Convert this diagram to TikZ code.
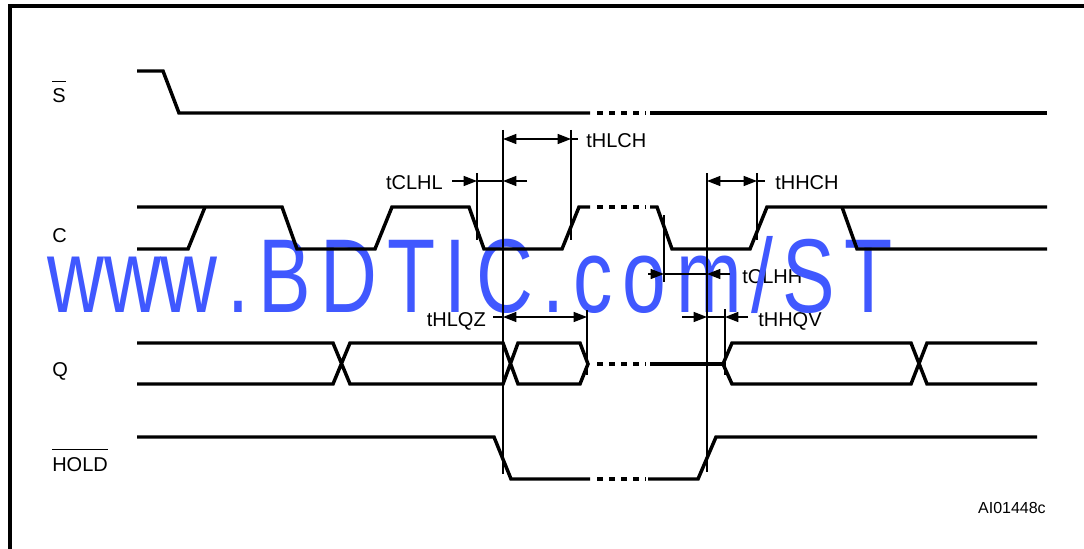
\documentclass[tikz,border=0pt]{standalone}
\usepackage{fontspec}
\setmainfont{Liberation Sans}
\usepackage{graphicx}
\usetikzlibrary{arrows.meta}
\definecolor{wmblue}{RGB}{64,88,255}
\newcommand\barred[1]{\vbox{\hrule height 0.9pt\kern 5pt\hbox{#1}}}
\newcommand\wmk{\kern 9.5pt}
\begin{document}
\begin{tikzpicture}[x=0.75pt,y=-0.75pt,
  >={Triangle[length=10pt,width=7.5pt]},
  sig/.style={line width=2.6pt, line join=miter},
  dsh/.style={line width=2.6pt, dash pattern=on 4.5pt off 4.5pt},
  thinl/.style={line width=1pt},
  lbl/.style={inner sep=0pt, font=\fontsize{15}{18}\selectfont},
  small/.style={inner sep=0pt, font=\fontsize{12}{14}\selectfont}]
\useasboundingbox (0,0) rectangle (1084,549);
% frame
\draw[line width=2.4pt] (10,549) -- (10,6) -- (1084,6);
% signal labels
\node[lbl, anchor=base west] (lS) at (52,103) {\barred{S}};
\node[lbl, anchor=base west] (lC) at (52,242) {C};
\node[lbl, anchor=base west] (lQ) at (52,376) {Q};
\node[lbl, anchor=base west] (lH) at (52,471) {\barred{HOLD}};
% timing labels
\node[lbl, anchor=base west] (tHLCH) at (586,147) {tHLCH};
\node[lbl, anchor=base east] (tCLHL) at (443,190) {tCLHL};
\node[lbl, anchor=base west] (tHHCH) at (775,190) {tHHCH};
\node[lbl, anchor=base west] (tCLHH) at (742,283) {tCLHH};
\node[lbl, anchor=base east] (tHLQZ) at (486,326) {tHLQZ};
\node[lbl, anchor=base west] (tHHQV) at (758,326) {tHHQV};
\node[small, anchor=base east] (ref) at (1046,513) {AI01448c};
% watermark
\node[anchor=base west, inner sep=0pt, text=wmblue, font=\fontsize{78.75}{80}\selectfont] (wm) at (47,312)
  {\scalebox{0.75}[1]{www\wmk .\wmk B\wmk D\wmk T\wmk I\wmk C\wmk .\wmk c\wmk o\wmk m\wmk /\wmk S\wmk T}};
% S
\draw[sig] (137,71) -- (163,71) -- (179,113) -- (590,113);
\draw[dsh] (597,113) -- (646,113);
\draw[sig] (650,113) -- (1047,113);
% C
\draw[sig] (137,207) -- (282,207) -- (297,249) -- (375,249) -- (392,207) -- (469,207) -- (484,249) -- (562,249) -- (579,207) -- (590,207);
\draw[dsh] (597,207) -- (646,207);
\draw[sig] (650,207) -- (657,207) -- (672,249) -- (750,249) -- (767,207) -- (1047,207);
\draw[sig] (137,249) -- (188,249) -- (205,207);
\draw[sig] (842,207) -- (857,249) -- (1047,249);
% Q
\draw[sig] (137,343) -- (333,343) -- (350,384) -- (503,384) -- (518,343) -- (580,343) -- (588,364) -- (580,384) -- (518,384) -- (503,343) -- (350,343) -- (333,384) -- (137,384);
\draw[dsh] (597,364) -- (646,364);
\draw[sig] (650,364) -- (723,364);
\draw[sig] (1037,343) -- (927,343) -- (911,384) -- (732,384) -- (723,364) -- (732,343) -- (911,343) -- (927,384) -- (1037,384);
% HOLD
\draw[sig] (137,437) -- (494,437) -- (511,479) -- (590,479);
\draw[dsh] (597,479) -- (646,479);
\draw[sig] (648,479) -- (698,479) -- (716,437) -- (1037,437);
% vertical reference lines
\draw[thinl] (503,130) -- (503,474);
\draw[thinl] (707,173) -- (707,472);
\draw[thinl] (477,173) -- (477,240);
\draw[thinl] (571,130) -- (571,240);
\draw[thinl] (757,173) -- (757,240);
\draw[thinl] (664,215) -- (664,282);
\draw[thinl] (587,310) -- (587,375);
\draw[thinl] (725,309) -- (725,375);
% dimension arrows
\draw[thinl,<->] (503,139) -- (571,139);
\draw[thinl] (571,139) -- (578,139);
\draw[thinl,->] (452,181) -- (477,181);
\draw[thinl] (477,181) -- (503,181);
\draw[thinl,->] (527,181) -- (503,181);
\draw[thinl,<->] (707,181) -- (757,181);
\draw[thinl] (757,181) -- (765,181);
\draw[thinl,->] (648,274) -- (664,274);
\draw[thinl] (664,274) -- (707,274);
\draw[thinl,->] (730,274) -- (707,274);
\draw[thinl] (493,317) -- (503,317);
\draw[thinl,<->] (503,317) -- (587,317);
\draw[thinl,->] (682,317) -- (707,317);
\draw[thinl] (707,317) -- (725,317);
\draw[thinl,->] (748,317) -- (725,317);
\end{tikzpicture}
\end{document}
